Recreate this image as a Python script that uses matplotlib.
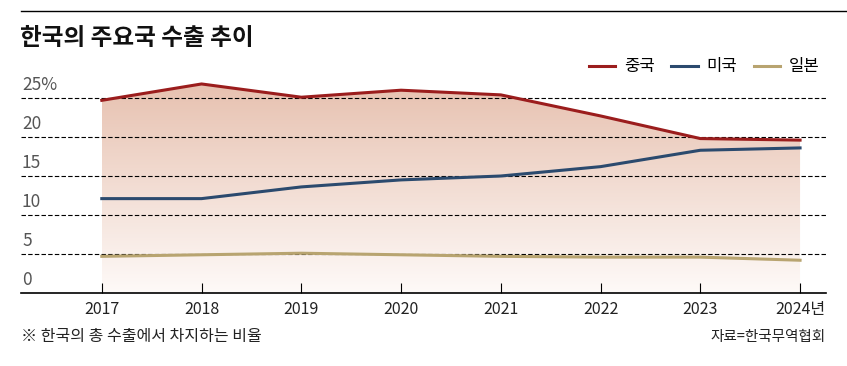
import matplotlib.pyplot as plt
import matplotlib.colors as mcolors
from matplotlib.patches import Polygon
import numpy as np

plt.rcParams['font.family'] = ['Noto Sans CJK KR', 'DejaVu Sans']

years = [2017, 2018, 2019, 2020, 2021, 2022, 2023, 2024]
year_labels = ["2017", "2018", "2019", "2020", "2021", "2022", "2023", "2024년"]
china = [24.7, 26.8, 25.1, 26.0, 25.4, 22.7, 19.8, 19.6]
usa = [12.1, 12.1, 13.6, 14.5, 15.0, 16.2, 18.3, 18.6]
japan = [4.7, 4.9, 5.1, 4.9, 4.7, 4.6, 4.6, 4.2]
y_ticks = [0, 5, 10, 15, 20, 25]
y_labels = ["0", "5", "10", "15", "20", "25%"]

c_china = "#9b1d1d"
c_usa = "#2b4a6e"
c_japan = "#b8a470"

fig = plt.figure(figsize=(8.47, 3.66), dpi=100)
ax = fig.add_axes([21 / 847, 73 / 366, 805 / 847, 234 / 366])
ax.set_xlim(2016.19, 2024.26)
ax.set_ylim(0, 30)

# gradient fill under the China line
cmap = mcolors.LinearSegmentedColormap.from_list("g", ["#fefaf8", "#e7c1b0"])
grad = np.linspace(0, 1, 256).reshape(-1, 1)
img = ax.imshow(grad, extent=[years[0], years[-1], 0, max(china)], origin="lower",
                aspect="auto", cmap=cmap, zorder=1)
poly = Polygon(list(zip(years, china)) + [(years[-1], 0), (years[0], 0)],
               closed=True, transform=ax.transData, facecolor="none", edgecolor="none")
ax.add_patch(poly)
img.set_clip_path(poly)

for t in y_ticks[1:]:
    ax.axhline(t, color="black", lw=0.8, ls=(0, (4, 2)), zorder=2)
for t, lab in zip(y_ticks, y_labels):
    ax.text(2016.2, t + 0.5, lab, fontsize=12.5, color="#555555", va="bottom", ha="left")

ax.plot(years, japan, color=c_japan, lw=2.2, zorder=3, label="일본")
ax.plot(years, usa, color=c_usa, lw=2.2, zorder=3, label="미국")
ax.plot(years, china, color=c_china, lw=2.2, zorder=3, label="중국")

for s in ["top", "right", "left"]:
    ax.spines[s].set_visible(False)
ax.spines["bottom"].set_linewidth(1.2)
ax.set_yticks([])
ax.set_xticks(years)
ax.set_xticklabels(year_labels, fontsize=11.5, color="#222222")
ax.tick_params(axis="x", direction="in", length=7, width=0.8, pad=6)

handles, labels = ax.get_legend_handles_labels()
ax.legend(handles[::-1], labels[::-1], loc="center right", bbox_to_anchor=(1.0, (293 - 67) / 234),
          ncol=3, frameon=False, fontsize=12, handlelength=1.6, columnspacing=1.0,
          handletextpad=0.5, borderaxespad=0)

fig.add_artist(plt.Line2D([21 / 847, 1], [1 - 11 / 366, 1 - 11 / 366], color="black", lw=1))
fig.text(20 / 847, 1 - 38 / 366, "한국의 주요국 수출 추이", fontsize=17, fontweight="bold",
         va="center", ha="left", color="#111111")
fig.text(21 / 847, 1 - 337 / 366, "※ 한국의 총 수출에서 차지하는 비율", fontsize=11.5,
         va="center", ha="left", color="#222222")
fig.text(826 / 847, 1 - 337 / 366, "자료=한국무역협회", fontsize=10.5,
         va="center", ha="right", color="#222222")

fig.savefig("out.png", dpi=100, facecolor="white")
